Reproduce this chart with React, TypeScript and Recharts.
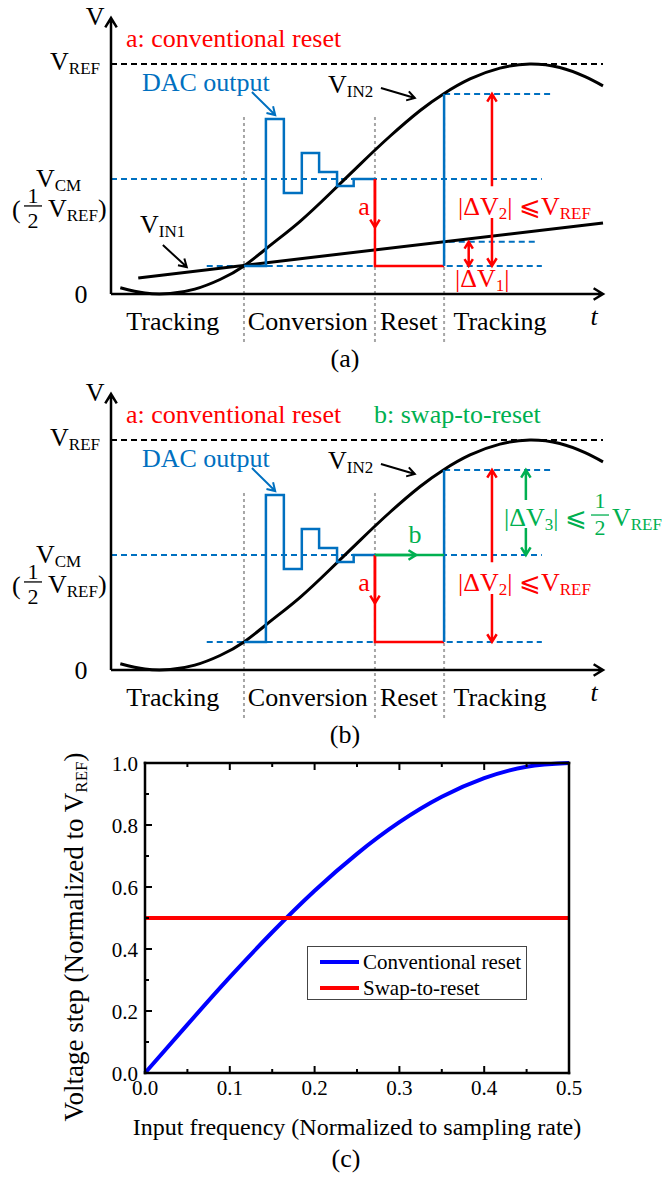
import React from 'react';
import {
  ComposedChart,
  LineChart,
  Line,
  XAxis,
  YAxis,
  ReferenceLine,
  ReferenceDot,
  Legend,
} from 'recharts';

const SERIF = "'Liberation Serif', 'Times New Roman', 'DejaVu Serif', serif";
const RED = '#ff0000';
const BLUE = '#0070c0';
const GREEN = '#00b050';
const GUIDE = '#a6a6a6';

// ---------- timing diagrams (a) and (b) ----------
// time in arbitrary units, voltage as a fraction of VREF
const T_MAX = 7.4;
const V_MAX = 1.2;
const VREF = 1;
const VCM = 0.5;

// full-swing input close to Nyquist
const vin2T = [0.14, 0.51, 0.89, 1.26, 1.64, 2.0, 2.39, 2.84, 3.29, 3.75, 4.2, 4.65, 5.0, 5.4, 5.85, 6.3, 6.75, 7.13, 7.4];
const vin2V = [0.027, 0.004, 0.002, 0.021, 0.063, 0.122, 0.21, 0.315, 0.436, 0.565, 0.687, 0.798, 0.87, 0.935, 0.982, 1.0, 0.985, 0.945, 0.905];

// slow input
const vin1T = [0.41, 7.4];
const vin1V = [0.07, 0.309];

// DAC output during the SAR search
const dacT = [2.0, 2.33, 2.6, 2.87, 3.13, 3.4, 3.65, 3.97];
const dacV = [0.122, 0.761, 0.439, 0.613, 0.53, 0.47, 0.5, 0.5];

// end of tracking, end of conversion, end of reset
const phaseEdges = [2.0, 3.97, 5.01];
const phaseNames = ['Tracking', 'Conversion', 'Reset', 'Tracking'];
const phaseCenters = [0.93, 2.96, 4.48, 5.85];

// sampled levels
const vHold = 0.122; // both inputs at the first sampling instant
const vNext2 = 0.87; // VIN2 at the next sampling instant
const vNext1 = 0.227; // VIN1 at the next sampling instant

// ---------- (c) voltage step vs input frequency ----------
const freq = [0, 0.05, 0.1, 0.15, 0.2, 0.25, 0.3, 0.35, 0.4, 0.45, 0.5];
const convStep = [0, 0.156, 0.309, 0.454, 0.588, 0.707, 0.809, 0.891, 0.951, 0.988, 1.0];
const swapStep = [0.5, 0.5, 0.5, 0.5, 0.5, 0.5, 0.5, 0.5, 0.5, 0.5, 0.5];
const freqTicks = [0, 0.05, 0.1, 0.15, 0.2, 0.25, 0.3, 0.35, 0.4, 0.45, 0.5];
const stepTicks = [0, 0.1, 0.2, 0.3, 0.4, 0.5, 0.6, 0.7, 0.8, 0.9, 1.0];

const pts = (ts: number[], vs: number[]) => ts.map((t, i) => ({ t, v: vs[i] }));
const seg = (t1: number, v1: number, t2: number, v2: number) => [
  { x: t1, y: v1 },
  { x: t2, y: v2 },
];

type Seg = string | { sub: string };

// text runs with lowered subscripts
function runs(segs: Seg[], subSize = 17, drop = 4) {
  let shift = 0;
  return segs.map((s, i) => {
    const isSub = typeof s !== 'string';
    const want = isSub ? drop : 0;
    const dy = want - shift;
    shift = want;
    return (
      <tspan key={i} dy={dy} fontSize={isSub ? subSize : undefined}>
        {isSub ? (s as { sub: string }).sub : (s as string)}
      </tspan>
    );
  });
}

type WordOpts = { fill?: string; size?: number; anchor?: 'start' | 'middle' | 'end'; italic?: boolean };

// ReferenceDot shape: text at the dot position
const words = (segs: Seg[], o: WordOpts = {}) => (p: any) => (
  <text
    x={p.cx}
    y={p.cy}
    fill={o.fill ?? '#000'}
    fontSize={o.size ?? 26}
    fontFamily={SERIF}
    textAnchor={o.anchor ?? 'start'}
    fontStyle={o.italic ? 'italic' : 'normal'}
  >
    {runs(segs)}
  </text>
);

function half(cx: number, cy: number, color: string, up: number, down: number) {
  return (
    <g fill={color} fontFamily={SERIF} fontSize={22}>
      <text x={cx} y={cy - up} textAnchor="middle">1</text>
      <line x1={cx - 9} x2={cx + 9} y1={cy - 11} y2={cy - 11} stroke={color} strokeWidth={1.3} />
      <text x={cx} y={cy + down} textAnchor="middle">2</text>
    </g>
  );
}

const halfVref = (p: any) => (
  <g>
    <text x={p.cx} y={p.cy + 1} fontSize={26} fontFamily={SERIF} fill="#000">(</text>
    {half(p.cx + 21, p.cy, '#000', 14, 11)}
    <text x={p.cx + 36} y={p.cy} fontSize={26} fontFamily={SERIF} fill="#000">
      {runs(['V', { sub: 'REF' }, ')'])}
    </text>
  </g>
);

const dv3Label = (p: any) => (
  <g>
    <text x={p.cx} y={p.cy} fill={GREEN} fontSize={26} fontFamily={SERIF}>
      {runs(['|ΔV', { sub: '3' }, '| ⩽'])}
    </text>
    {half(p.cx + 96, p.cy, GREEN, 18, 9)}
    <text x={p.cx + 108} y={p.cy} fill={GREEN} fontSize={26} fontFamily={SERIF}>
      {runs(['V', { sub: 'REF' }])}
    </text>
  </g>
);

// ReferenceLine shape: line with open chevron head(s)
const arrow = (ends: 'end' | 'both', size = 9) => (p: any) => {
  const { x1, y1, x2, y2, stroke, strokeWidth } = p;
  const a = Math.atan2(y2 - y1, x2 - x1);
  const w = 0.55;
  const head = (x: number, y: number, ang: number) =>
    `M${x - size * Math.cos(ang - w)},${y - size * Math.sin(ang - w)}L${x},${y}L${
      x - size * Math.cos(ang + w)
    },${y - size * Math.sin(ang + w)}`;
  let d = `M${x1},${y1}L${x2},${y2}` + head(x2, y2, a);
  if (ends === 'both') d += head(x1, y1, a + Math.PI);
  return <path d={d} fill="none" stroke={stroke} strokeWidth={strokeWidth} />;
};

const note = (key: string, x: number, y: number, shape: any) => (
  <ReferenceDot key={key} x={x} y={y} r={0} ifOverflow="visible" shape={shape} />
);

const dashed = { strokeWidth: 2, strokeDasharray: '6 4', ifOverflow: 'visible' as const };

function WavePanel({ swap, tag }: { swap: boolean; tag: string }) {
  const [, tReset, tTrack] = phaseEdges;
  const vin2 = pts(vin2T, vin2V);
  const vin1 = pts(vin1T, vin1V);
  const dac = pts(dacT, dacV);
  const reset = [
    { t: tReset, v: VCM },
    { t: tReset, v: vHold },
    { t: tTrack, v: vHold },
  ];
  const resample = [
    { t: tTrack, v: vHold },
    { t: tTrack, v: vNext2 },
  ];

  return (
    <ComposedChart width={668} height={375} margin={{ top: 18, right: 65, bottom: 81, left: 111 }}>
      <XAxis type="number" dataKey="t" domain={[0, T_MAX]} hide />
      <YAxis type="number" domain={[0, V_MAX]} hide />

      {phaseEdges.map((t) => (
        <ReferenceLine
          key={`g${t}`}
          segment={seg(t, 0.77, t, -0.22)}
          stroke={GUIDE}
          strokeWidth={2}
          strokeDasharray="3 3"
          ifOverflow="visible"
        />
      ))}

      <ReferenceLine segment={seg(0, VREF, T_MAX, VREF)} stroke="#000" {...dashed} />
      <ReferenceLine segment={seg(0, VCM, 6.48, VCM)} stroke={BLUE} {...dashed} />
      <ReferenceLine segment={seg(1.44, vHold, 6.48, vHold)} stroke={BLUE} {...dashed} />
      <ReferenceLine segment={seg(tTrack, vNext2, 6.65, vNext2)} stroke={BLUE} {...dashed} />
      {!swap && <ReferenceLine segment={seg(5.08, vNext1, 6.41, vNext1)} stroke={BLUE} {...dashed} />}

      <Line data={vin2} dataKey="v" type="natural" stroke="#000" strokeWidth={3} dot={false} isAnimationActive={false} />
      {!swap && (
        <Line data={vin1} dataKey="v" type="linear" stroke="#000" strokeWidth={3} dot={false} isAnimationActive={false} />
      )}
      <Line data={dac} dataKey="v" type="stepAfter" stroke={BLUE} strokeWidth={2.5} dot={false} isAnimationActive={false} />
      <Line data={reset} dataKey="v" type="linear" stroke={RED} strokeWidth={2.5} dot={false} isAnimationActive={false} />
      <Line data={resample} dataKey="v" type="linear" stroke={BLUE} strokeWidth={2.5} dot={false} isAnimationActive={false} />
      {swap && (
        <ReferenceLine segment={seg(tReset, VCM, tTrack, VCM)} stroke={GREEN} strokeWidth={2.5} ifOverflow="visible" />
      )}

      {/* axes with arrow heads */}
      <ReferenceLine segment={seg(0, 0, T_MAX, 0)} stroke="#000" strokeWidth={2.5} ifOverflow="visible" shape={arrow('end', 11)} />
      <ReferenceLine segment={seg(0, 0, 0, V_MAX)} stroke="#000" strokeWidth={2.5} ifOverflow="visible" shape={arrow('end', 11)} />

      {/* pointers and voltage steps */}
      <ReferenceLine segment={seg(2.12, 0.878, 2.47, 0.778)} stroke={BLUE} strokeWidth={2} ifOverflow="visible" shape={arrow('end')} />
      <ReferenceLine segment={seg(4.06, 0.896, 4.57, 0.852)} stroke="#000" strokeWidth={2} ifOverflow="visible" shape={arrow('end')} />
      <ReferenceLine segment={seg(tReset, VCM, tReset, 0.29)} stroke={RED} strokeWidth={2.5} ifOverflow="visible" shape={arrow('end')} />
      <ReferenceLine segment={seg(5.73, 0.468, 5.73, vNext2)} stroke={RED} strokeWidth={2.5} ifOverflow="visible" shape={arrow('end')} />
      <ReferenceLine segment={seg(5.73, 0.33, 5.73, vHold)} stroke={RED} strokeWidth={2.5} ifOverflow="visible" shape={arrow('end')} />
      {!swap && (
        <ReferenceLine segment={seg(0.78, 0.213, 1.14, 0.117)} stroke="#000" strokeWidth={2} ifOverflow="visible" shape={arrow('end')} />
      )}
      {!swap && (
        <ReferenceLine segment={seg(5.38, vNext1, 5.38, vHold)} stroke={RED} strokeWidth={2.5} ifOverflow="visible" shape={arrow('both', 8)} />
      )}
      {swap && (
        <ReferenceLine segment={seg(tReset, VCM, 4.59, VCM)} stroke={GREEN} strokeWidth={2.5} ifOverflow="visible" shape={arrow('end')} />
      )}
      {swap && (
        <ReferenceLine segment={seg(6.24, 0.739, 6.24, vNext2)} stroke={GREEN} strokeWidth={2.5} ifOverflow="visible" shape={arrow('end')} />
      )}
      {swap && (
        <ReferenceLine segment={seg(6.24, 0.617, 6.24, VCM)} stroke={GREEN} strokeWidth={2.5} ifOverflow="visible" shape={arrow('end')} />
      )}

      {/* labels */}
      {note('v', -0.24, 1.17, words(['V'], { anchor: 'middle' }))}
      {note('conv', 0.226, 1.074, words(['a: conventional reset'], { fill: RED }))}
      {swap && note('swap', 3.956, 1.074, words(['b: swap-to-reset'], { fill: GREEN }))}
      {note('vref', -0.165, 0.974, words(['V', { sub: 'REF' }], { anchor: 'end' }))}
      {note('dac', 0.466, 0.883, words(['DAC output'], { fill: BLUE }))}
      {note('vin2', 3.264, 0.874, words(['V', { sub: 'IN2' }]))}
      {note('vcm', -1.128, 0.465, words(['V', { sub: 'CM' }]))}
      {note('half', -1.489, 0.335, halfVref)}
      {!swap && note('vin1', 0.436, 0.265, words(['V', { sub: 'IN1' }]))}
      {note('zero', -0.451, -0.039, words(['0'], { anchor: 'middle' }))}
      {note('a', 3.805, 0.343, words(['a'], { fill: RED, anchor: 'middle' }))}
      {swap && note('b', 4.572, 0.552, words(['b'], { fill: GREEN, anchor: 'middle' }))}
      {note('dv2', 5.219, 0.343, words(['|ΔV', { sub: '2' }, '| ⩽V', { sub: 'REF' }], { fill: RED }))}
      {!swap && note('dv1', 5.174, 0.03, words(['|ΔV', { sub: '1' }, '|'], { fill: RED }))}
      {swap && note('dv3', 5.911, 0.626, dv3Label)}
      {phaseNames.map((name, i) => note(`p${i}`, phaseCenters[i], -0.157, words([name], { anchor: 'middle' })))}
      {note('t', 7.265, -0.135, words(['t'], { anchor: 'middle', italic: true }))}
      {note('tag', 3.52, -0.317, words([tag], { anchor: 'middle' }))}
    </ComposedChart>
  );
}

// ---------- (c) ----------
const GAP = 8;
const frame = { stroke: '#000', strokeWidth: 2.5, strokeLinecap: 'square' as const };

// inward ticks, minor ticks unlabeled
const axisTick = (side: 'bottom' | 'top' | 'left' | 'right') => (p: any) => {
  const { x, y, index, payload } = p;
  const major = index % 2 === 0;
  const len = major ? 7 : 4;
  const lbl = major ? Number(payload.value).toFixed(1) : null;
  const ln = { stroke: '#000', strokeWidth: 2 };
  const txt = { fontSize: 21, fontFamily: SERIF, fill: '#000' };
  if (side === 'bottom') {
    const ay = y - GAP;
    return (
      <g>
        <line x1={x} x2={x} y1={ay} y2={ay - len} {...ln} />
        {lbl && (
          <text x={x} y={ay + 22} textAnchor="middle" {...txt}>
            {lbl}
          </text>
        )}
      </g>
    );
  }
  if (side === 'top') {
    const ay = y + GAP;
    return <line x1={x} x2={x} y1={ay} y2={ay + len} {...ln} />;
  }
  if (side === 'left') {
    const ax = x + GAP;
    return (
      <g>
        <line x1={ax} x2={ax + len} y1={y} y2={y} {...ln} />
        {lbl && (
          <text x={ax - 7} y={y + 7.5} textAnchor="end" {...txt}>
            {lbl}
          </text>
        )}
      </g>
    );
  }
  const ax = x - GAP;
  return <line x1={ax} x2={ax - len} y1={y} y2={y} {...ln} />;
};

const legendBox = (p: any) => (
  <div
    style={{
      width: 220,
      height: 54,
      boxSizing: 'border-box',
      border: '1px solid #444',
      background: '#fff',
      paddingTop: 2,
      fontFamily: SERIF,
      fontSize: 21,
      color: '#000',
    }}
  >
    {(p.payload || []).map((e: any) => (
      <div key={e.value} style={{ display: 'flex', alignItems: 'center', height: 26 }}>
        <span style={{ display: 'inline-block', width: 39, height: 4, background: e.color, marginLeft: 12, marginRight: 4 }} />
        <span>{e.value}</span>
      </div>
    ))}
  </div>
);

const yTitle = (p: any) => (
  <text
    x={p.cx}
    y={p.cy}
    transform={`rotate(-90 ${p.cx} ${p.cy})`}
    textAnchor="middle"
    fontSize={27}
    fontFamily={SERIF}
    fill="#000"
  >
    {runs(['Voltage step (Normalized to V', { sub: 'REF' }, ')'])}
  </text>
);

function StepChart() {
  const rows = freq.map((f, i) => ({ f, conv: convStep[i], swap: swapStep[i] }));
  return (
    <LineChart width={668} height={459} data={rows} margin={{ top: 13, right: 69, bottom: 76, left: 85 }}>
      <XAxis
        dataKey="f"
        type="number"
        domain={[0, 0.5]}
        ticks={freqTicks}
        interval={0}
        height={30}
        tickSize={0}
        tickMargin={GAP}
        tick={axisTick('bottom')}
        axisLine={frame}
      />
      <XAxis
        xAxisId="top"
        orientation="top"
        dataKey="f"
        type="number"
        domain={[0, 0.5]}
        ticks={freqTicks}
        interval={0}
        height={30}
        tickSize={0}
        tickMargin={GAP}
        tick={axisTick('top')}
        axisLine={frame}
      />
      <YAxis
        type="number"
        domain={[0, 1]}
        ticks={stepTicks}
        interval={0}
        width={60}
        tickSize={0}
        tickMargin={GAP}
        tick={axisTick('left')}
        axisLine={frame}
      />
      <YAxis
        yAxisId="right"
        orientation="right"
        type="number"
        domain={[0, 1]}
        ticks={stepTicks}
        interval={0}
        width={30}
        tickSize={0}
        tickMargin={GAP}
        tick={axisTick('right')}
        axisLine={frame}
      />
      <Line dataKey="conv" name="Conventional reset" type="natural" stroke="#0000ff" strokeWidth={4} dot={false} isAnimationActive={false} />
      <Line dataKey="swap" name="Swap-to-reset" type="linear" stroke="#ff0000" strokeWidth={4} dot={false} isAnimationActive={false} />
      <Legend
        layout="vertical"
        align="center"
        verticalAlign="middle"
        content={legendBox}
        wrapperStyle={{ left: 307, top: 226, width: 220 }}
      />
      <ReferenceDot x={-0.0731} y={0.4387} r={0} ifOverflow="visible" shape={yTitle} />
      <ReferenceDot
        x={0.25}
        y={-0.2}
        r={0}
        ifOverflow="visible"
        shape={words(['Input frequency (Normalized to sampling rate)'], { anchor: 'middle', size: 24 })}
      />
      <ReferenceDot x={0.237} y={-0.303} r={0} ifOverflow="visible" shape={words(['(c)'], { anchor: 'middle' })} />
    </LineChart>
  );
}

export default function App() {
  return (
    <div style={{ position: 'absolute', left: 0, top: 0, width: 668, height: 1179, background: '#fff', overflow: 'hidden' }}>
      <div style={{ position: 'absolute', left: 0, top: 0 }}>
        <WavePanel swap={false} tag="(a)" />
      </div>
      <div style={{ position: 'absolute', left: 0, top: 376 }}>
        <WavePanel swap tag="(b)" />
      </div>
      <div style={{ position: 'absolute', left: 0, top: 720 }}>
        <StepChart />
      </div>
    </div>
  );
}
